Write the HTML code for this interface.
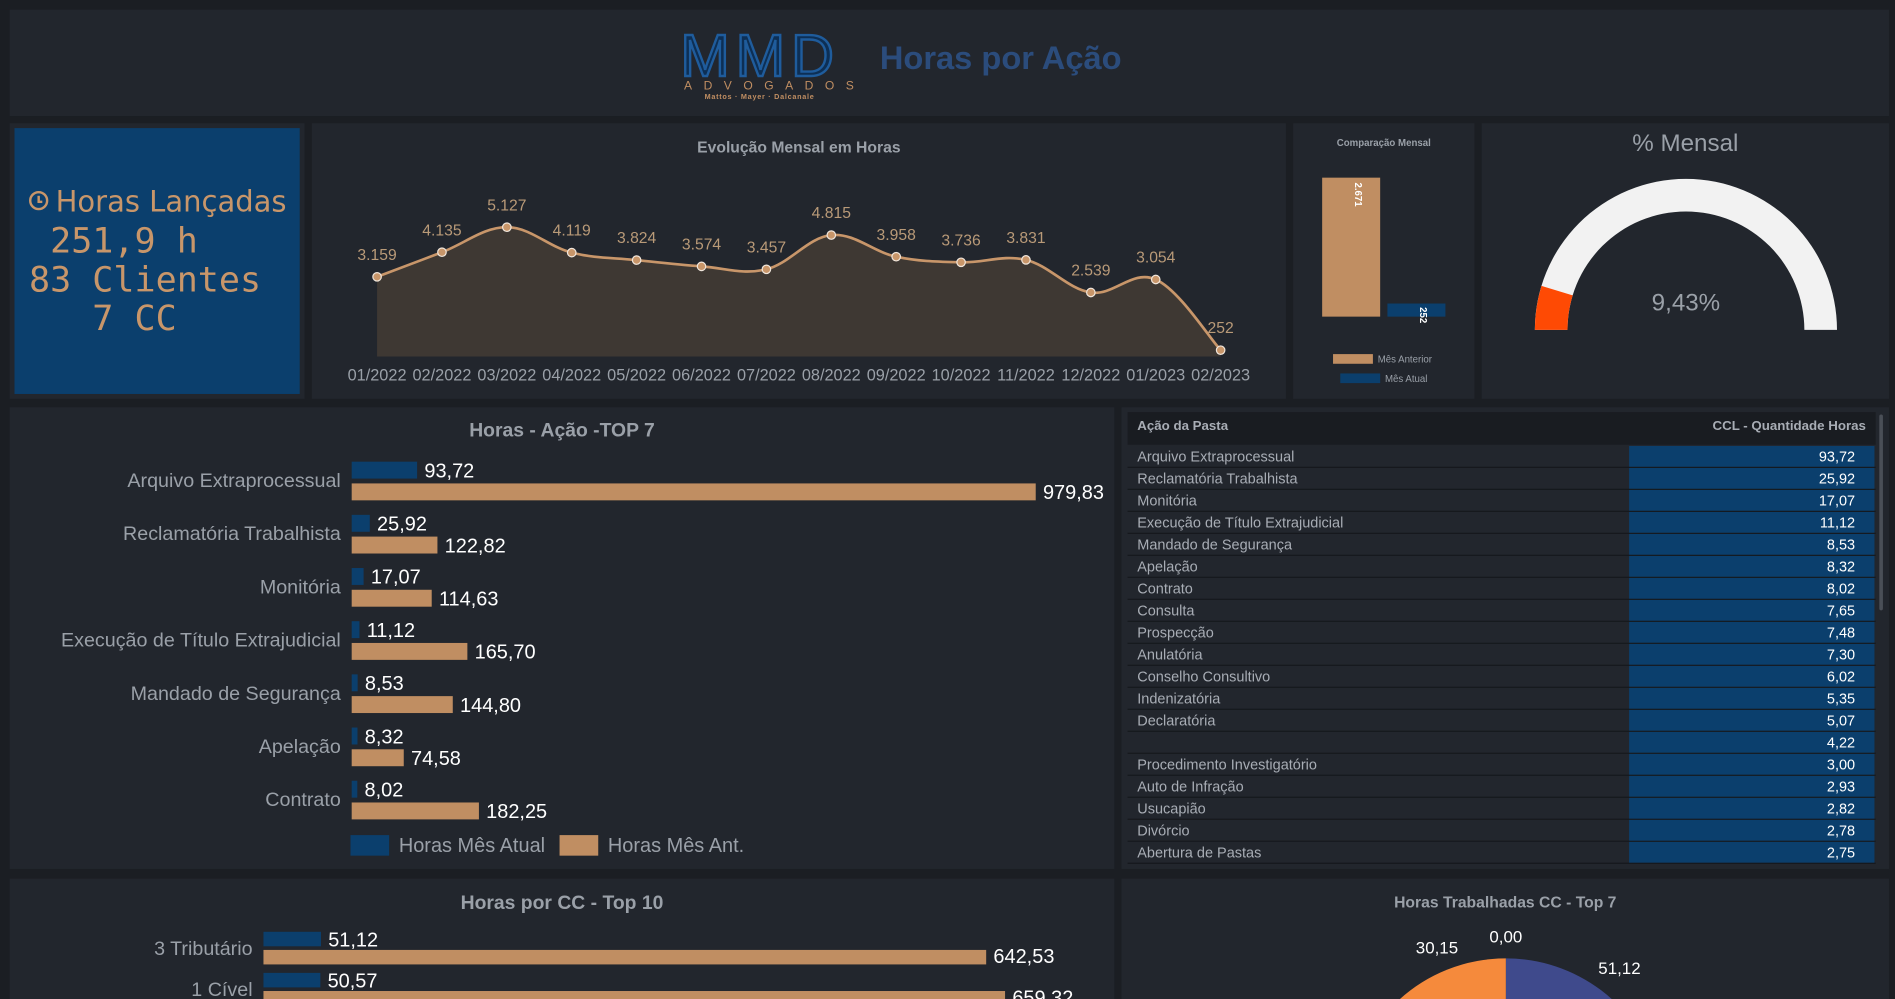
<!DOCTYPE html>
<html><head><meta charset="utf-8">
<style>
html,body{margin:0;padding:0;background:#1b1e23;overflow:hidden;width:1895px;height:999px}
#root{position:absolute;left:0;top:0;width:1568px;height:827px;overflow:hidden;transform:scale(1.20855);transform-origin:0 0;font-family:"Liberation Sans",sans-serif}
.panel{position:absolute;background:#22262d}
.t{position:absolute;white-space:nowrap}
svg{position:absolute;left:0;top:0}
</style></head><body>
<div id="root">
<div class="panel" style="left:8px;top:8px;width:1555px;height:88px"></div>
<div class="t" style="left:563px;top:24px;font-size:49px;letter-spacing:5px;font-family:'Liberation Sans',sans-serif;-webkit-text-stroke:2px #1f5c9c;color:#0d2f55;line-height:46px">MMD</div>
<div class="t" style="left:566px;top:66px;font-size:10px;color:#c08e62;letter-spacing:9.5px">ADVOGADOS</div>
<div class="t" style="left:583px;top:78px;font-size:6px;color:#c08e62;font-weight:bold;letter-spacing:0.6px">Mattos · Mayer · Dalcanale</div>
<div class="t" style="left:728px;top:33px;font-size:27px;font-weight:bold;color:#2b4c7c">Horas por Ação</div>

<div class="panel" style="left:8px;top:102px;width:244px;height:228px"></div>
<div class="panel" style="left:12px;top:106px;width:236px;height:220px;background:#0b3f6d"></div>
<div class="t" style="left:24px;top:153px;font-size:24px;color:#c8966a;font-family:'DejaVu Sans',sans-serif"><span style="display:inline-block;width:16px;height:16px;border:2.5px solid #c8966a;border-radius:50%;box-sizing:border-box;vertical-align:1px;margin-right:6px;position:relative"><span style="position:absolute;left:4.5px;top:2px;width:2px;height:5px;background:#c8966a"></span><span style="position:absolute;left:4.5px;top:6px;width:4px;height:2px;background:#c8966a"></span></span>Horas Lançadas</div>
<div class="t" style="left:24px;top:183px;font-size:29px;line-height:32px;color:#c8966a;font-family:'DejaVu Sans Mono',monospace;white-space:pre"> 251,9 h
83 Clientes
   7 CC</div>

<div class="panel" style="left:258px;top:102px;width:806px;height:228px"></div>
<div class="t" style="left:258px;width:806px;text-align:center;top:114px;font-size:13px;font-weight:bold;color:#9aa0a8">Evolução Mensal em Horas</div>

<div class="panel" style="left:1070px;top:102px;width:150px;height:228px"></div>
<div class="t" style="left:1070px;width:150px;text-align:center;top:114px;font-size:8px;font-weight:bold;color:#9aa0a8">Comparação Mensal</div>

<div class="panel" style="left:1226px;top:102px;width:337px;height:228px"></div>
<div class="t" style="left:1226px;width:337px;text-align:center;top:108px;font-size:20px;color:#9aa0a8">% Mensal</div>

<div class="panel" style="left:8px;top:337px;width:914px;height:382px"></div>
<div class="t" style="left:8px;width:914px;text-align:center;top:348px;font-size:16px;font-weight:bold;color:#9aa0a8">Horas - Ação -TOP 7</div>

<div class="panel" style="left:928px;top:337px;width:635px;height:382px"></div>
<div class="panel" style="left:933px;top:341px;width:619px;height:27px;background:#191c21"></div>
<div class="t" style="left:941px;top:347px;font-size:11px;font-weight:bold;color:#a8adb5">Ação da Pasta</div>
<div class="t" style="left:1417px;top:347px;font-size:11px;font-weight:bold;color:#a8adb5">CCL - Quantidade Horas</div>
<div class="panel" style="left:1555px;top:343px;width:3px;height:162px;background:#4a4f57;border-radius:2px"></div>

<div class="panel" style="left:8px;top:727px;width:914px;height:100px"></div>
<div class="t" style="left:8px;width:914px;text-align:center;top:739px;font-size:16px;font-weight:bold;color:#9aa0a8">Horas por CC - Top 10</div>

<div class="panel" style="left:928px;top:727px;width:635px;height:100px"></div>
<div class="t" style="left:928px;width:635px;text-align:center;top:739px;font-size:13px;font-weight:bold;color:#9aa0a8">Horas Trabalhadas CC - Top 7</div>

<svg id="chart" width="1568" height="827"></svg>
</div>
<script>
// ---- data ----
const months = ["01/2022","02/2022","03/2022","04/2022","05/2022","06/2022","07/2022","08/2022","09/2022","10/2022","11/2022","12/2022","01/2023","02/2023"];
const monthHours = [3159,4135,5127,4119,3824,3574,3457,4815,3958,3736,3831,2539,3054,252];
const monthLabels = ["3.159","4.135","5.127","4.119","3.824","3.574","3.457","4.815","3.958","3.736","3.831","2.539","3.054","252"];
const compareValues = [2671,252];
const compareLabels = ["2.671","252"];
const gaugePct = 9.43;
const actionCats = ["Arquivo Extraprocessual","Reclamatória Trabalhista","Monitória","Execução de Título Extrajudicial","Mandado de Segurança","Apelação","Contrato"];
const actionCur = [93.72,25.92,17.07,11.12,8.53,8.32,8.02];
const actionPrev = [979.83,122.82,114.63,165.70,144.80,74.58,182.25];
const tableNames = ["Arquivo Extraprocessual","Reclamatória Trabalhista","Monitória","Execução de Título Extrajudicial","Mandado de Segurança","Apelação","Contrato","Consulta","Prospecção","Anulatória","Conselho Consultivo","Indenizatória","Declaratória","","Procedimento Investigatório","Auto de Infração","Usucapião","Divórcio","Abertura de Pastas"];
const tableValues = [93.72,25.92,17.07,11.12,8.53,8.32,8.02,7.65,7.48,7.30,6.02,5.35,5.07,4.22,3.00,2.93,2.82,2.78,2.75];
const ccCats = ["3 Tributário","1 Cível"];
const ccCur = [51.12,50.57];
const ccPrev = [642.53,659.32];
const pieValues = [51.12,50.57,45.2,38.4,34.1,30.15,0.00];
const pieLabels = ["51,12","","","","","30,15","0,00"];

const NS="http://www.w3.org/2000/svg";
const svg=document.getElementById('chart');
function mk(tag,attrs,txt){const e=document.createElementNS(NS,tag);for(const k in attrs)e.setAttribute(k,attrs[k]);if(txt!==undefined)e.textContent=txt;svg.appendChild(e);return e;}
const fmt=v=>v.toFixed(2).replace('.',',');

// ---- line chart ----
const lx=i=>312+i*(1010-312)/(months.length-1);
const ly=v=>295-v*(107/5127);
const pts=monthHours.map((v,i)=>[lx(i),ly(v)]);
function smooth(p){let d=`M${p[0][0]},${p[0][1]}`;for(let i=0;i<p.length-1;i++){const p0=p[i-1]||p[i],p1=p[i],p2=p[i+1],p3=p[i+2]||p2;const t=0.18;d+=` C${p1[0]+(p2[0]-p0[0])*t},${p1[1]+(p2[1]-p0[1])*t} ${p2[0]-(p3[0]-p1[0])*t},${p2[1]-(p3[1]-p1[1])*t} ${p2[0]},${p2[1]}`;}return d;}
const ld=smooth(pts);
let e=mk('path',{d:ld+` L${lx(months.length-1)},${ly(0)} L${lx(0)},${ly(0)} Z`,fill:'#3e3833'});


e=mk('path',{d:ld,fill:'none',stroke:'#c8966a','stroke-width':2.2});


monthHours.forEach((v,i)=>{
  let c=mk('circle',{cx:lx(i),cy:ly(v),r:3.5,fill:'#c8966a',stroke:'#f0e6dc','stroke-width':1});
  
  
  let t=mk('text',{x:lx(i),y:ly(v)-14,'text-anchor':'middle','font-size':13,fill:'#b99a78'},monthLabels[i]);
  
  
  let m=mk('text',{x:lx(i),y:315,'text-anchor':'middle','font-size':13.5,fill:'#9aa0a8'},months[i]);
  
  
});

// ---- comparison bars ----
const cy=v=>262-v*(115/2671);
const cx=[1094,1148], cCol=['#c08e62','#0b3f6d'];
compareValues.forEach((v,i)=>{
  let r=mk('rect',{x:cx[i],y:cy(v),width:48,height:262-cy(v),fill:cCol[i]});
  
  
  const ty=i?cy(v)+3:cy(v)+4;
  let t=mk('text',{x:0,y:0,'font-size':8,'font-weight':'bold',fill:'#fff',transform:`translate(${cx[i]+27},${ty}) rotate(90)`},compareLabels[i]);
  
  
});
[['Mês Anterior','#c08e62',1103,297],['Mês Atual','#0b3f6d',1109,313]].forEach(l=>{
  let r=mk('rect',{x:l[2],y:l[3]-4,width:33,height:8,fill:l[1]});
  
  
  let t=mk('text',{x:l[2]+37,y:l[3]+3,'font-size':8,fill:'#9aa0a8'},l[0]);
  
  
});

// ---- gauge ----
const gcx=1395,gcy=273,R=125,r0=98;
function arc(a0,a1){const p=(a,r)=>[gcx+r*Math.cos(a),gcy-r*Math.sin(a)];const A=p(a0,R),B=p(a1,R),C=p(a1,r0),D=p(a0,r0);return `M${A} A${R},${R} 0 0 1 ${B} L${C} A${r0},${r0} 0 0 0 ${D} Z`;}
e=mk('path',{d:arc(Math.PI,0),fill:'#f2f2f2'});


e=mk('path',{d:arc(Math.PI,Math.PI*(1-gaugePct/100)),fill:'#fe4a04'});


e=mk('text',{x:gcx,y:257,'text-anchor':'middle','font-size':20,fill:'#9aa0a8'},gaugePct.toFixed(2).replace('.',',')+'%');



// ---- action bars ----
const ax=v=>291+v*(566/979.83);
actionCats.forEach((c,i)=>{
  const y0=382+i*44;
  let t=mk('text',{x:282,y:y0+21,'text-anchor':'end','font-size':16.3,fill:'#9aa0a8'},c);
  
  
  let b=mk('rect',{x:291,y:y0,width:ax(actionCur[i])-291,height:14,fill:'#0b3f6d'});
  
  
  let b2=mk('rect',{x:291,y:y0+18,width:ax(actionPrev[i])-291,height:14,fill:'#c08e62'});
  
  
  let v1=mk('text',{x:ax(actionCur[i])+6,y:y0+13,'font-size':16.5,fill:'#fff'},fmt(actionCur[i]));
  
  
  let v2=mk('text',{x:ax(actionPrev[i])+6,y:y0+31,'font-size':16.5,fill:'#fff'},fmt(actionPrev[i]));
  
  
});
[['Horas Mês Atual','#0b3f6d',290],['Horas Mês Ant.','#c08e62',463]].forEach(l=>{
  let r=mk('rect',{x:l[2],y:691,width:32,height:17,fill:l[1]});
  
  
  let t=mk('text',{x:l[2]+40,y:705,'font-size':16.5,fill:'#9aa0a8'},l[0]);
  
  
});

// ---- table ----
tableNames.forEach((n,i)=>{
  const y=369+i*18.2;
  let row=mk('rect',{x:933,y:y,width:619,height:17.2,fill:'#22262d'});
  
  
  let s=mk('rect',{x:933,y:y+17.2,width:619,height:1,fill:'#15181c'});
  
  
  let cell=mk('rect',{x:1348,y:y,width:203,height:17.2,fill:'#0b3f6d'});
  
  
  let t=mk('text',{x:941,y:y+13,'font-size':12,fill:'#a8adb5'},n);
  
  
  let v=mk('text',{x:1535,y:y+13,'text-anchor':'end','font-size':12,fill:'#fff'},fmt(tableValues[i]));
  
  
});

// ---- cc bars ----
const bx=v=>218+v*(598/642.53);
ccCats.forEach((c,i)=>{
  const y0=771+i*34;
  let t=mk('text',{x:209,y:y0+19,'text-anchor':'end','font-size':16.3,fill:'#9aa0a8'},c);
  
  
  let b=mk('rect',{x:218,y:y0,width:bx(ccCur[i])-218,height:12,fill:'#0b3f6d'});
  
  
  let b2=mk('rect',{x:218,y:y0+15,width:bx(ccPrev[i])-218,height:12,fill:'#c08e62'});
  
  
  let v1=mk('text',{x:bx(ccCur[i])+6,y:y0+12,'font-size':16.5,fill:'#fff'},fmt(ccCur[i]));
  
  
  let v2=mk('text',{x:bx(ccPrev[i])+6,y:y0+26,'font-size':16.5,fill:'#fff'},fmt(ccPrev[i]));
  
  
});

// ---- pie ----
const pcx=1246,pcy=924,pr=131;
const pieCols=['#3f4a8c','#7a5ca8','#c05a9a','#e85f6f','#f07a50','#f58a3c','#f5b13c'];
const tot=pieValues.reduce((a,b)=>a+b,0);
let ang=0;
pieValues.forEach((v,i)=>{
  const a0=ang,a1=ang+v/tot*2*Math.PI;ang=a1;
  const P=a=>[pcx+pr*Math.sin(a),pcy-pr*Math.cos(a)];
  const A=P(a0),B=P(a1);
  let s=mk('path',{d:`M${pcx},${pcy} L${A} A${pr},${pr} 0 ${a1-a0>Math.PI?1:0} 1 ${B} Z`,fill:pieCols[i]});
  
  
  if(pieLabels[i]){
    const m=(a0+a1)/2, lr=pr+22;
    let lxp=pcx+lr*Math.sin(m), lyp=pcy-lr*Math.cos(m);
    if(i===0){lxp=1340;lyp=806;} if(i===5){lxp=1189;lyp=789;} if(i===6){lxp=1246;lyp=780;}
    let t=mk('text',{x:lxp,y:lyp,'text-anchor':'middle','font-size':14,fill:'#fff'},pieLabels[i]);
    
    
  }
});
</script>
</body></html>
